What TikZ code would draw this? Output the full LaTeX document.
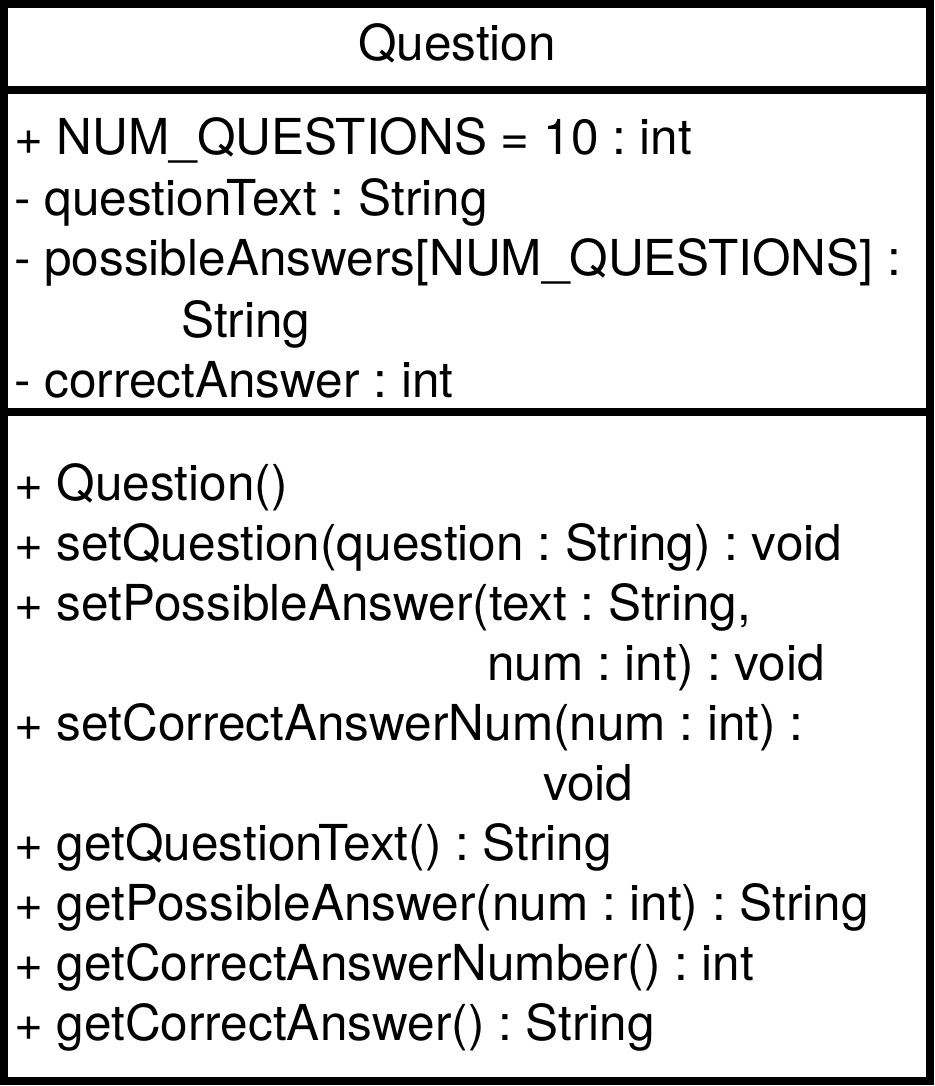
\documentclass[tikz,border=0pt]{standalone}
\usepackage{fontspec}
\setmainfont{TeX Gyre Heros}
\frenchspacing
\begin{document}
\begin{tikzpicture}[x=1pt,y=-1pt]
    \tikzstyle{frame} = [draw=black,line width=8pt]
    \tikzstyle{member} = [anchor=base west,inner sep=0pt,font=\fontsize{49.5}{60}\selectfont]
    \tikzstyle{classname} = [anchor=base,inner sep=0pt,font=\fontsize{49.5}{60}\selectfont]
    \useasboundingbox (0,0) rectangle (934,1086);
    \fill[white] (0,0) rectangle (934,1086);
    \draw[frame] (4,4) rectangle (930,1081);
    \draw[frame] (4,90) -- (930,90);
    \draw[frame] (4,412) -- (930,412);
    \node[classname] (name) at (457,61) {Question};
    \node[member] (numq) at (14,155) {+ NUM\_QUESTIONS = 10 : int};
    \node[member] (qtext) at (14,215) {- questionText : String};
    \node[member] (panswers) at (14,275) {- possibleAnswers[NUM\_QUESTIONS] :};
    \node[member] (panswerstype) at (181,337) {String};
    \node[member] (canswer) at (14,397) {- correctAnswer : int};
    \node[member] (ctor) at (14,500) {+ Question()};
    \node[member] (setq) at (14,560) {+ setQuestion(question : String) : void};
    \node[member] (setpa) at (14,620) {+ setPossibleAnswer(text : String,};
    \node[member] (setpanum) at (487,680) {num : int) : void};
    \node[member] (setca) at (14,740) {+ setCorrectAnswerNum(num : int) :};
    \node[member] (setcatype) at (543,800) {void};
    \node[member] (getqt) at (14,860) {+ getQuestionText() : String};
    \node[member] (getpa) at (14,920) {+ getPossibleAnswer(num : int) : String};
    \node[member] (getcan) at (14,980) {+ getCorrectAnswerNumber() : int};
    \node[member] (getca) at (14,1040) {+ getCorrectAnswer() : String};
\end{tikzpicture}
\end{document}
